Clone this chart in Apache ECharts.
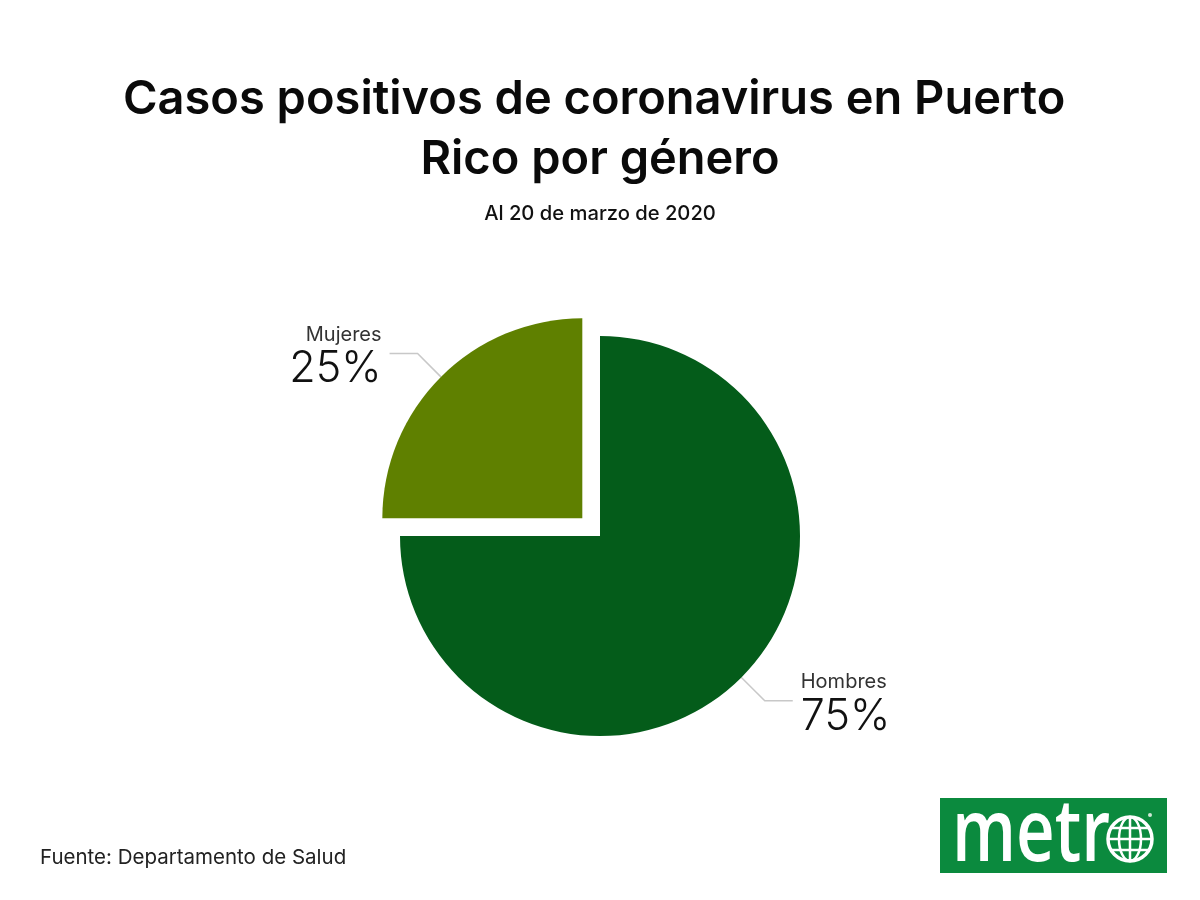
<!DOCTYPE html>
<html>
<head>
<meta charset="utf-8">
<style>
html, body { margin: 0; padding: 0; background: #fff; }
#main { width: 1200px; height: 900px; }
</style>
<script src="https://cdn.jsdelivr.net/npm/echarts@6/dist/echarts.min.js"></script>
</head>
<body>
<div id="main"></div>
<script>
let categories = ['Hombres', 'Mujeres']
let shares = [75, 25]
let sliceColors = ['#045c1a', '#5f8000']

// the trailing space is in the original line break, it pulls the first line a bit to the left
let titleLines = ['Casos positivos de coronavirus en Puerto ', 'Rico por género']
let subtitle = 'Al 20 de marzo de 2020'
let source = 'Fuente: Departamento de Salud'

let myChart = echarts.init(document.getElementById('main'))

let logoGreen = '#0b8a3e'
let globe = { cx: 1130, cy: 839, r: 22 }
let ringLine = { stroke: '#fff', fill: 'none', lineWidth: 3.5 }
let thinLine = { stroke: '#fff', fill: 'none', lineWidth: 2.5 }

let option = {
    backgroundColor: '#fff',
    animation: false,
    title: [
        {
            text: titleLines.join('\n'),
            left: 595,
            top: 65,
            textAlign: 'center',
            textStyle: {
                fontFamily: 'Inter',
                fontSize: 47,
                fontWeight: 600,
                lineHeight: 60,
                color: '#0a0a0a',
                align: 'center'
            }
        },
        {
            text: subtitle,
            left: 595,
            top: 199,
            textAlign: 'center',
            textStyle: { fontFamily: 'Inter', fontSize: 20.2, fontWeight: 500, color: '#111' }
        },
        {
            text: source,
            left: 35,
            top: 842,
            textStyle: { fontFamily: 'Inter', fontSize: 20.5, fontWeight: 400, color: '#222' }
        }
    ],
    series: [
        {
            type: 'pie',
            center: [600, 536],
            radius: [0, 200],
            startAngle: 90,
            clockwise: true,
            selectedMode: 'multiple',
            selectedOffset: 25,
            avoidLabelOverlap: false,
            silent: true,
            label: {
                show: true,
                position: 'outside',
                distanceToLabelLine: 8,
                padding: [8, 0, 0, 0],
                formatter: '{n|{b}}\n{v|{d}%}',
                rich: {
                    n: { fontFamily: 'Inter', fontSize: 20, fontWeight: 400, color: '#333', lineHeight: 24 },
                    v: { fontFamily: 'Inter', fontSize: 43, fontWeight: 300, color: '#111', lineHeight: 46 }
                }
            },
            labelLine: {
                show: true,
                length: 33,
                length2: 28,
                lineStyle: { color: '#c8c8c8', width: 1.5 }
            },
            data: categories.map((name, i) => ({
                name: name,
                value: shares[i],
                selected: name === 'Mujeres',
                itemStyle: { color: sliceColors[i] },
                select: { itemStyle: { color: sliceColors[i], borderWidth: 0 } }
            }))
        }
    ],
    graphic: [
        { type: 'rect', shape: { x: 940, y: 798, width: 227, height: 75 }, style: { fill: logoGreen } },
        {
            type: 'text',
            x: 952,
            y: 793,
            scaleX: 0.78,
            style: {
                text: 'metr',
                fill: '#fff',
                font: '600 86px "Open Sans"'
            }
        },
        { type: 'circle', shape: { cx: globe.cx, cy: globe.cy, r: globe.r }, style: ringLine },
        { type: 'ellipse', shape: { cx: globe.cx, cy: globe.cy, rx: 11, ry: globe.r }, style: thinLine },
        { type: 'line', shape: { x1: globe.cx, y1: globe.cy - globe.r, x2: globe.cx, y2: globe.cy + globe.r }, style: thinLine },
        { type: 'line', shape: { x1: globe.cx - globe.r, y1: globe.cy, x2: globe.cx + globe.r, y2: globe.cy }, style: thinLine },
        { type: 'line', shape: { x1: globe.cx - 18, y1: globe.cy - 11, x2: globe.cx + 18, y2: globe.cy - 11 }, style: thinLine },
        { type: 'line', shape: { x1: globe.cx - 18, y1: globe.cy + 11, x2: globe.cx + 18, y2: globe.cy + 11 }, style: thinLine },
        { type: 'circle', shape: { cx: 1150, cy: 815, r: 2 }, style: { fill: '#cfe8d6' } }
    ]
}

myChart.setOption(option)
</script>
</body>
</html>
